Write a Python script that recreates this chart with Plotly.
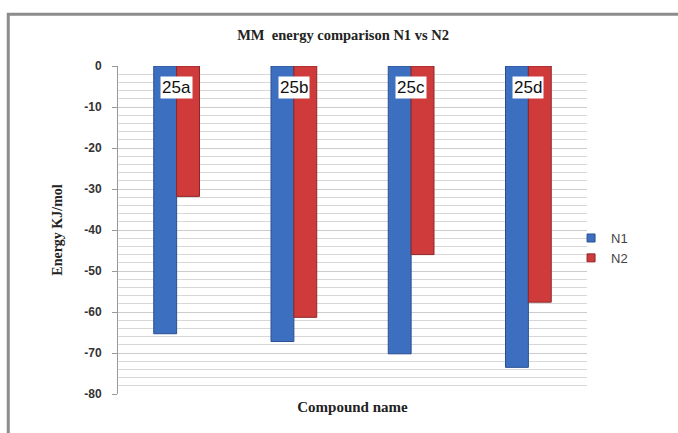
import plotly.graph_objects as go

compounds = ["25a", "25b", "25c", "25d"]
n1_energy = [-65.3, -67.2, -70.2, -73.5]
n2_energy = [-31.8, -61.3, -46.0, -57.6]
y_ticks = [0, -10, -20, -30, -40, -50, -60, -70, -80]

series = [
    ("N1", n1_energy, "#3d6fc0", "#2a4f8f"),
    ("N2", n2_energy, "#cf3b3b", "#8f2626"),
]

fig = go.Figure()
for name, vals, fill, edge in series:
    fig.add_trace(go.Bar(
        x=compounds, y=vals, name=name, showlegend=False,
        marker=dict(color=fill, line=dict(color=edge, width=1)),
    ))
# small square legend keys
for name, vals, fill, edge in series:
    fig.add_trace(go.Scatter(
        x=[None], y=[None], mode="markers", name=name,
        marker=dict(symbol="square", size=8, color=fill, line=dict(color=edge, width=1)),
    ))

# compound labels boxed at the top of each bar pair
for c in compounds:
    fig.add_annotation(
        x=c, y=-5.3, xref="x", yref="y", text=c, showarrow=False,
        font=dict(family="Liberation Sans, Arial", size=17, color="#111"),
        bgcolor="white", borderpad=1,
    )

# outer frame
fig.add_shape(type="rect", xref="paper", yref="paper",
              x0=-0.234, x1=1.3, y0=-0.3, y1=1.158,
              line=dict(color="#8c8c8c", width=3), fillcolor="rgba(0,0,0,0)",
              layer="below")

fig.update_layout(
    width=678, height=433,
    margin=dict(l=118, r=91, t=66, b=39),
    paper_bgcolor="white", plot_bgcolor="white",
    barmode="group", bargap=0.61, bargroupgap=0,
    title=dict(text="<b>MM  energy comparison N1 vs N2</b>", x=0.506, xanchor="center",
               y=0.92, yanchor="middle",
               font=dict(family="Liberation Serif, Times New Roman", size=14.5, color="#222")),
    legend=dict(x=0.966, y=0.445, xanchor="left", yanchor="middle",
                font=dict(family="Liberation Sans, Arial", size=13, color="#444"),
                itemwidth=30, tracegroupgap=6, bgcolor="rgba(0,0,0,0)"),
    showlegend=True,
)
fig.update_xaxes(
    showticklabels=False, showline=False, showgrid=False,
    title=dict(text="<b>Compound name</b>", standoff=7,
               font=dict(family="Liberation Serif, Times New Roman", size=15, color="#222")),
)
fig.update_yaxes(
    range=[-80, 0], tickvals=y_ticks, ticktext=[f"<b>{v}</b>" for v in y_ticks],
    tickfont=dict(family="Liberation Sans, Arial", size=12, color="#333"),
    ticks="outside", ticklen=5, tickcolor="#999", ticklabelstandoff=8,
    showline=True, linecolor="#999", linewidth=1,
    showgrid=True, gridcolor="#cccccc", gridwidth=1,
    minor=dict(dtick=2, showgrid=True, gridcolor="#d8d8d8", gridwidth=1),
    zeroline=False,
    title=dict(text="<b>Energy KJ/mol</b>", standoff=18,
               font=dict(family="Liberation Serif, Times New Roman", size=14, color="#222")),
)

fig.write_html("out.html")
